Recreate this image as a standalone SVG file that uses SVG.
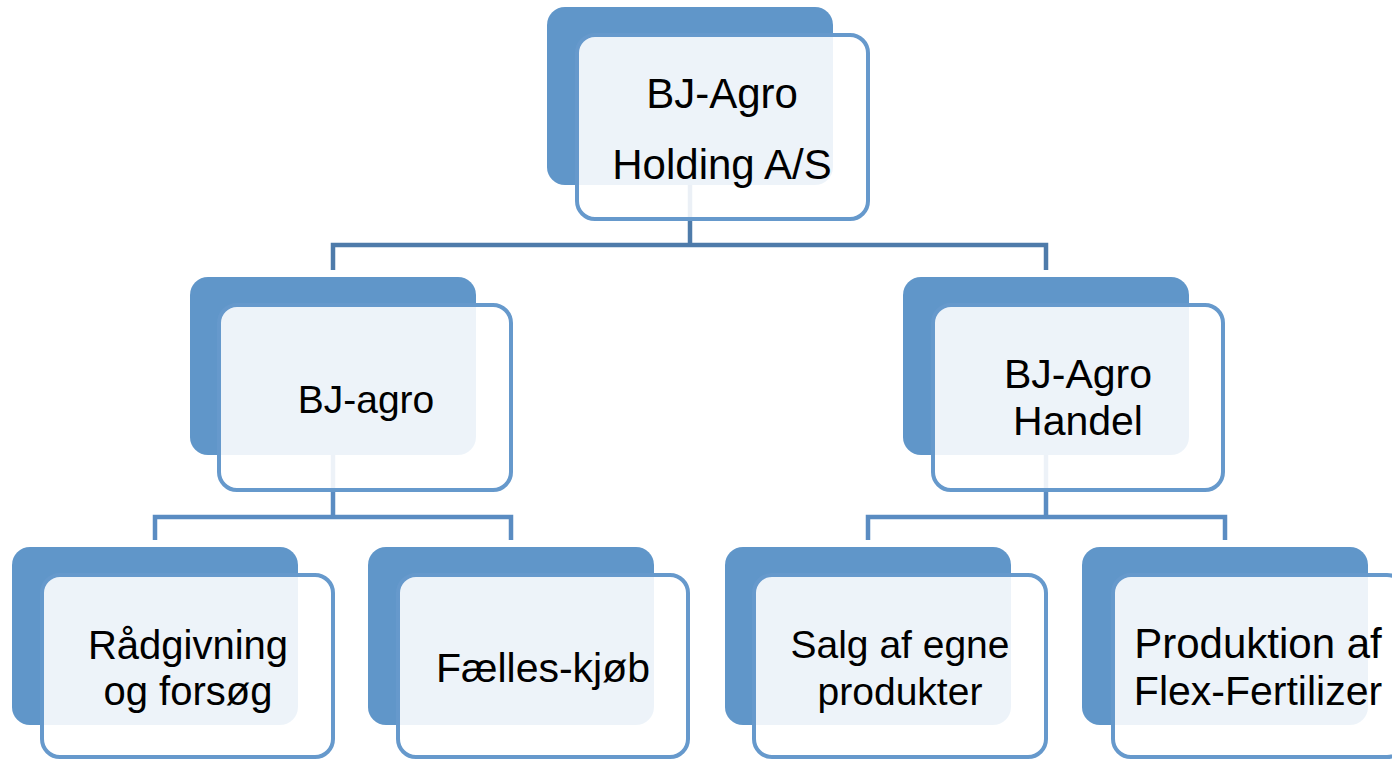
<svg xmlns="http://www.w3.org/2000/svg" width="1392" height="759" viewBox="0 0 1392 759">
<style>
.back{fill:#6096C9}
.front{fill:#FFFFFF;fill-opacity:0.89;stroke:#6699CC;stroke-width:4}
.lbl{font-family:"Liberation Sans",Arial,sans-serif;font-size:41px;fill:#000;text-anchor:middle}
.c1{fill:none;stroke:#4E7BAA;stroke-width:4.5}
.c2{fill:none;stroke:#5A8CC2;stroke-width:4.5}
</style>
<rect width="1392" height="759" fill="#FFFFFF"/>
<g id="connectors">
<path class="c1" d="M690 185V245M333 270V245H1046V270"/>
<path class="c2" d="M333 455V517M155 540V517H511V540"/>
<path class="c2" d="M1046 455V517M868 540V517H1225V540"/>
</g>
<g id="n-holding">
<rect class="back" x="547" y="7" width="286" height="178" rx="18"/>
<rect class="front" x="577" y="35" width="291" height="184" rx="18"/>
<text class="lbl" x="722" y="108" style="font-size:42px">BJ-Agro</text>
<text class="lbl" x="722" y="179" style="font-size:42px">Holding A/S</text>
</g>
<g id="n-bjagro">
<rect class="back" x="190" y="277" width="286" height="178" rx="18"/>
<rect class="front" x="219" y="305" width="292" height="185" rx="18"/>
<text class="lbl" x="366" y="413" style="font-size:39px">BJ-agro</text>
</g>
<g id="n-handel">
<rect class="back" x="903" y="277" width="286" height="178" rx="18"/>
<rect class="front" x="933" y="305" width="290" height="185" rx="18"/>
<text class="lbl" x="1078" y="388">BJ-Agro</text>
<text class="lbl" x="1078" y="435">Handel</text>
</g>
<g id="n-raadgivning">
<rect class="back" x="12" y="547" width="286" height="178" rx="18"/>
<rect class="front" x="42" y="575" width="291" height="182" rx="18"/>
<text class="lbl" x="188" y="659" style="font-size:40px">Rådgivning</text>
<text class="lbl" x="188" y="705" style="font-size:40px">og forsøg</text>
</g>
<g id="n-faelles">
<rect class="back" x="368" y="547" width="286" height="178" rx="18"/>
<rect class="front" x="398" y="575" width="290" height="182" rx="18"/>
<text class="lbl" x="543" y="682">Fælles-kjøb</text>
</g>
<g id="n-salg">
<rect class="back" x="725" y="547" width="286" height="178" rx="18"/>
<rect class="front" x="754" y="575" width="292" height="182" rx="18"/>
<text class="lbl" x="900" y="658" style="font-size:39px">Salg af egne</text>
<text class="lbl" x="900" y="705" style="font-size:39px">produkter</text>
</g>
<g id="n-produktion">
<rect class="back" x="1082" y="547" width="286" height="178" rx="18"/>
<rect class="front" x="1113" y="575" width="292" height="182" rx="18"/>
<text class="lbl" x="1258" y="658" style="font-size:42px">Produktion af</text>
<text class="lbl" x="1258" y="705" style="font-size:41px">Flex-Fertilizer</text>
</g>
</svg>
